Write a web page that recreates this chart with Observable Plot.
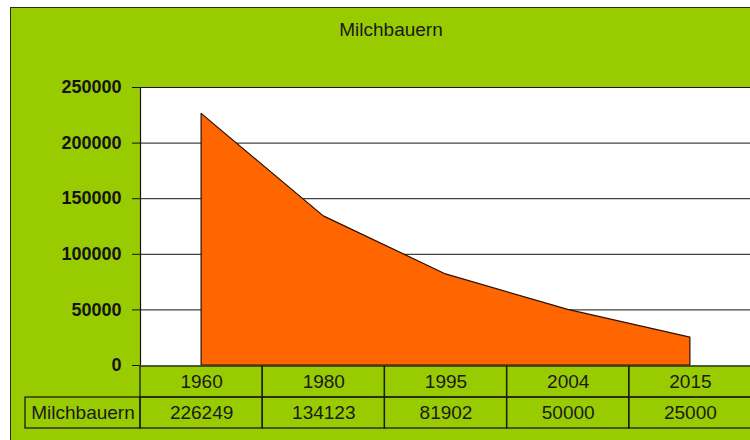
<!DOCTYPE html>
<html>
<head>
<meta charset="utf-8">
<script src="https://cdn.jsdelivr.net/npm/d3@7"></script>
<script src="https://cdn.jsdelivr.net/npm/@observablehq/plot@0.6"></script>
<style>
  html, body { margin: 0; padding: 0; background: #ffffff; overflow: hidden; width: 750px; height: 440px; }
  #frame {
    position: absolute; left: 10px; top: 7px; width: 760px; height: 440px;
    background: #99cc00; border: 1px solid #2a2a2a; box-sizing: content-box;
    font-family: "Liberation Sans", Arial, sans-serif; color: #1a1a1a;
  }
  #title { height: 44px; line-height: 44px; text-align: center; font-size: 19px; }
  #frame svg { display: block; }
</style>
</head>
<body>
<div id="frame">
  <div id="title"></div>
  <div id="chart"></div>
  <div id="table"></div>
</div>
<script>
const chartTitle = "Milchbauern";
const seriesName = "Milchbauern";
const years = ["1960", "1980", "1995", "2004", "2015"];
const farmers = [226249, 134123, 81902, 50000, 25000];
const yTicks = [0, 50000, 100000, 150000, 200000, 250000];

document.getElementById("title").textContent = chartTitle;

const data = years.map((year, i) => ({i, year, value: farmers[i]}));

const common = {
  width: 759,
  marginLeft: 129,
  marginRight: 19,
  x: {domain: [-0.5, years.length - 0.5], axis: null}
};

const chart = Plot.plot({
  ...common,
  height: 313,
  marginTop: 35,
  marginBottom: 0,
  y: {
    domain: [0, 250000],
    ticks: yTicks,
    tickFormat: d => String(d),
    tickSize: 8,
    tickPadding: 11,
    label: null
  },
  style: {
    background: "transparent",
    overflow: "visible",
    fontFamily: "'Liberation Sans', Arial, sans-serif",
    fontSize: "18px",
    fontWeight: "bold",
    color: "#141414"
  },
  marks: [
    Plot.frame({fill: "white", stroke: "none"}),
    Plot.ruleY(yTicks.filter(d => d > 0), {stroke: "#141414", strokeWidth: 1}),
    Plot.areaY(data, {x: "i", y: "value", fill: "#ff6600", stroke: "#2b1000", strokeWidth: 1.2}),
    Plot.ruleX([-0.5], {stroke: "#141414", strokeWidth: 1.2})
  ]
});
document.getElementById("chart").appendChild(chart);

// data table cells
const labelWidth = 115 / 122.2; // label column width in category units
const cells = [
  ...years.map((year, i) => ({row: "Jahr", x1: i - 0.5, x2: i + 0.5, xc: i, label: year})),
  {row: seriesName, x1: -0.5 - labelWidth, x2: -0.5, xc: -0.5 - labelWidth / 2, label: seriesName},
  ...farmers.map((v, i) => ({row: seriesName, x1: i - 0.5, x2: i + 0.5, xc: i, label: String(v)}))
];

const table = Plot.plot({
  ...common,
  height: 75,
  marginTop: 0,
  marginBottom: 12,
  y: {domain: ["Jahr", seriesName], axis: null, padding: 0},
  style: {
    background: "transparent",
    overflow: "visible",
    fontFamily: "'Liberation Sans', Arial, sans-serif",
    fontSize: "19px",
    color: "#1a1a1a"
  },
  marks: [
    Plot.barX(cells, {x1: "x1", x2: "x2", y: "row", fill: "none", stroke: "#1a1a1a", strokeWidth: 1.3, inset: 0}),
    Plot.text(cells, {x: "xc", y: "row", text: "label", fill: "#1a1a1a", fontSize: 19})
  ]
});
document.getElementById("table").appendChild(table);
</script>
</body>
</html>
